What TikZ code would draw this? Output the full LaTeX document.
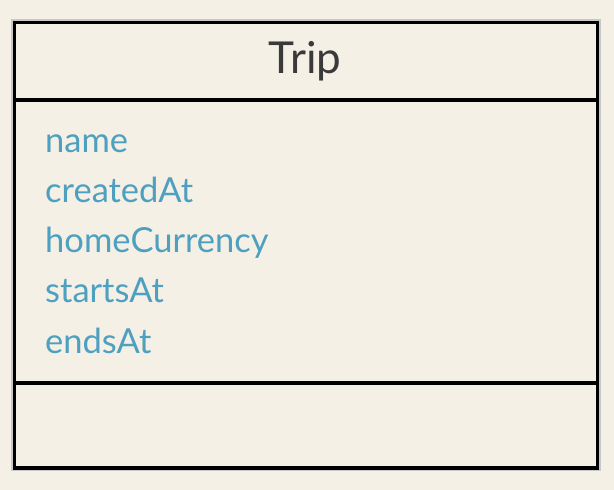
\documentclass[tikz,border=0pt]{standalone}
\usepackage{fontspec}
\setmainfont{Lato}
\definecolor{paper}{HTML}{F4F0E5}
\definecolor{attrblue}{HTML}{4EA0C0}
\definecolor{titlegray}{HTML}{3A3A3A}
\definecolor{rimgray}{HTML}{C8C8C8}
\tikzset{
  classline/.style={line width=3.2pt,black},
  attr/.style={anchor=base west,inner sep=0pt,text=attrblue,font=\fontsize{34.5}{34.5}\selectfont},
  classname/.style={anchor=base,inner sep=0pt,text=titlegray,font=\fontsize{44}{44}\selectfont}
}
\begin{document}
\begin{tikzpicture}[x=1pt,y=-1pt]
      \fill[paper](0,0)rectangle(614,490);
      \useasboundingbox(0,0)rectangle(614,490);
      \fill[rimgray](11,19)rectangle(601,471);
      \fill[paper](14.5,22.5)rectangle(597.5,468);
      \draw[classline](14.5,22.5)rectangle(597.5,468);
      \draw[classline](14.5,100)--(597.5,100);
      \draw[classline](14.5,383)--(597.5,383);
      \node[classname] (title) at (305,73) {Trip};
      \foreach \y/\v [count=\i] in {
        152/name, 202.3/createdAt, 252.6/homeCurrency,
        302.9/startsAt, 353.2/endsAt
      }{
        \node[attr] (attr\i) at (45,\y) {\v};
      }
    \end{tikzpicture}
\end{document}
